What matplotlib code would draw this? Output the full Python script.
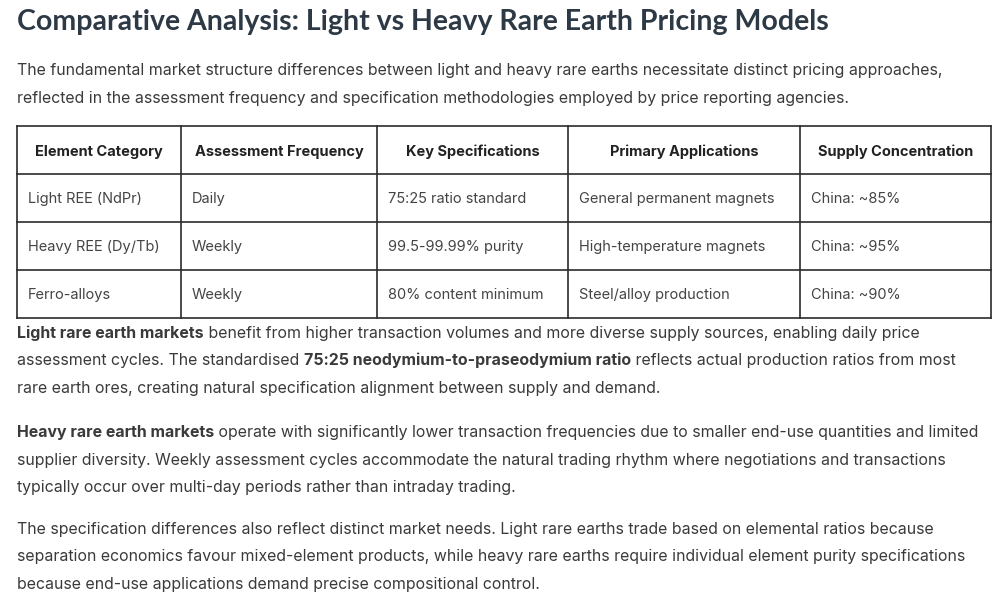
import matplotlib
matplotlib.use("Agg")
import matplotlib.pyplot as plt

# text content
title = "Comparative Analysis: Light vs Heavy Rare Earth Pricing Models"

intro_lines = [
    [("The fundamental market structure differences between light and heavy rare earths necessitate distinct pricing approaches,", False)],
    [("reflected in the assessment frequency and specification methodologies employed by price reporting agencies.", False)],
]

headers = ["Element Category", "Assessment Frequency", "Key Specifications",
           "Primary Applications", "Supply Concentration"]
categories = ["Light REE (NdPr)", "Heavy REE (Dy/Tb)", "Ferro-alloys"]
frequencies = ["Daily", "Weekly", "Weekly"]
specifications = ["75:25 ratio standard", "99.5-99.99% purity", "80% content minimum"]
applications = ["General permanent magnets", "High-temperature magnets", "Steel/alloy production"]
concentration = ["China: ~85%", "China: ~95%", "China: ~90%"]

para_light = [
    [("Light rare earth markets", True),
     (" benefit from higher transaction volumes and more diverse supply sources, enabling daily price", False)],
    [("assessment cycles. The standardised ", False), ("75:25 neodymium-to-praseodymium ratio", True),
     (" reflects actual production ratios from most", False)],
    [("rare earth ores, creating natural specification alignment between supply and demand.", False)],
]
para_heavy = [
    [("Heavy rare earth markets", True),
     (" operate with significantly lower transaction frequencies due to smaller end-use quantities and limited", False)],
    [("supplier diversity. Weekly assessment cycles accommodate the natural trading rhythm where negotiations and transactions", False)],
    [("typically occur over multi-day periods rather than intraday trading.", False)],
]
para_spec = [
    [("The specification differences also reflect distinct market needs. Light rare earths trade based on elemental ratios because", False)],
    [("separation economics favour mixed-element products, while heavy rare earths require individual element purity specifications", False)],
    [("because end-use applications demand precise compositional control.", False)],
]

body_font = "Inter"
text_col = "#3a3a3a"

fig = plt.figure(figsize=(9.99, 6.08), dpi=100)
ax = fig.add_axes([0, 0, 1, 1])
ax.set_xlim(0, 999)
ax.set_ylim(608, 0)
ax.axis("off")
renderer = fig.canvas.get_renderer()


def draw_runs(runs, x, y, size=11.45):
    for txt, bold in runs:
        t = ax.text(x, y, txt, fontsize=size, family=body_font, color=text_col,
                    fontweight="bold" if bold else "normal", va="baseline", ha="left")
        bb = t.get_window_extent(renderer=renderer)
        x += bb.width  # 1 px == 1 data unit here


def draw_para(lines, y0, step=27.5):
    for i, runs in enumerate(lines):
        draw_runs(runs, 17, y0 + i * step)


ax.text(17, 30, title, fontsize=20.5, family="Lato", fontweight="bold",
        color="#2d3a46", va="baseline", ha="left")

draw_para(intro_lines, 75)

# table
col_edges = [17, 181, 377, 568, 800, 991]
row_edges = [126, 174, 222, 270, 318]
for y in row_edges:
    ax.plot([col_edges[0], col_edges[-1]], [y, y], color="#2b2b2b", lw=1.2)
for x in col_edges:
    ax.plot([x, x], [row_edges[0], row_edges[-1]], color="#2b2b2b", lw=1.2)

for j, h in enumerate(headers):
    ax.text((col_edges[j] + col_edges[j + 1]) / 2, row_edges[1] - 18, h,
            fontsize=10.5, family=body_font, fontweight="bold", color="#222222",
            ha="center", va="baseline")

columns = [categories, frequencies, specifications, applications, concentration]
for j, col in enumerate(columns):
    for i, val in enumerate(col):
        ax.text(col_edges[j] + 11, row_edges[i + 2] - 19, val,
                fontsize=10.5, family=body_font, color="#444444", ha="left", va="baseline")

draw_para(para_light, 338)
draw_para(para_heavy, 437)
draw_para(para_spec, 534)

fig.savefig("out.png", dpi=100, facecolor="white")
